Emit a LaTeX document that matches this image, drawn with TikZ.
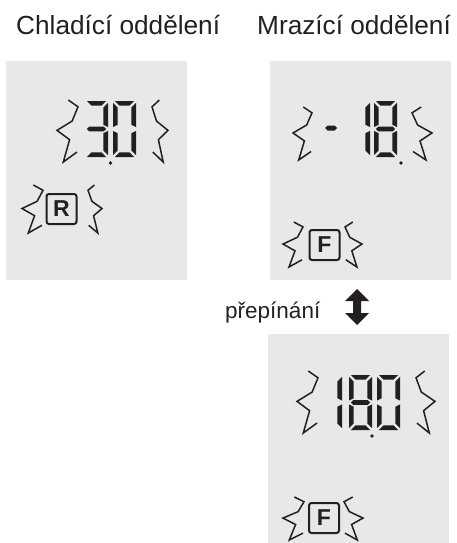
\documentclass[tikz,border=0pt]{standalone}
\usepackage{fontspec}
\setmainfont{Liberation Sans}
\definecolor{panelgray}{HTML}{E8E8E8}
\definecolor{ink}{HTML}{231F20}
\def\W{23}\def\H{56}\def\T{4.6}\def\G{1.9}
\newcommand\segA{\fill[ink] (\G,0) -- (\W-\G,0) -- (\W-\G-\T,\T) -- (\G+\T,\T) -- cycle;}
\newcommand\segD{\fill[ink] (\G,\H) -- (\W-\G,\H) -- (\W-\G-\T,\H-\T) -- (\G+\T,\H-\T) -- cycle;}
\newcommand\segG{\fill[ink] (\G,\H/2) -- (\G+\T/2,\H/2-\T/2) -- (\W-\G-\T/2,\H/2-\T/2) -- (\W-\G,\H/2) -- (\W-\G-\T/2,\H/2+\T/2) -- (\G+\T/2,\H/2+\T/2) -- cycle;}
\newcommand\segF{\fill[ink] (0,\G) -- (\T,\G+\T) -- (\T,\H/2-\G-\T/2) -- (0,\H/2-\G) -- cycle;}
\newcommand\segE{\fill[ink] (0,\H/2+\G) -- (\T,\H/2+\G+\T/2) -- (\T,\H-\G-\T) -- (0,\H-\G) -- cycle;}
\newcommand\segB{\fill[ink] (\W,\G) -- (\W-\T,\G+\T) -- (\W-\T,\H/2-\G-\T/2) -- (\W,\H/2-\G) -- cycle;}
\newcommand\segC{\fill[ink] (\W,\H/2+\G) -- (\W-\T,\H/2+\G+\T/2) -- (\W-\T,\H-\G-\T) -- (\W,\H-\G) -- cycle;}
\newcommand\digitat[3]{\begin{scope}[shift={(#1,#2)}]\foreach \s in {#3}{\csname seg\s\endcsname}\end{scope}}
\newcommand\brL[4]{\begin{scope}[shift={(#1,#2)},x=#3pt,y=-#4pt]
 \draw[ink,line width=1.5pt,miter limit=20] (0.95,0.84) -- (0.3,1) -- (0.6,0.64) -- (0,0.49) -- (0.72,0.34) -- (1,0.11) -- (0.54,0);\end{scope}}
\newcommand\brR[4]{\begin{scope}[shift={(#1,#2)},x=-#3pt,y=-#4pt]
 \draw[ink,line width=1.5pt,miter limit=20] (0.95,0.84) -- (0.3,1) -- (0.6,0.64) -- (0,0.49) -- (0.72,0.34) -- (1,0.11) -- (0.54,0);\end{scope}}
\begin{document}
\begin{tikzpicture}[x=1pt,y=-1pt]
\tikzset{
 panel/.style={fill=panelgray, draw=none},
 title/.style={anchor=base west, inner sep=0pt, text=ink, font=\fontsize{26.2}{30}\selectfont},
 keybox/.style={draw=ink, line width=2pt, rounded corners=2.5pt, minimum width=30pt, minimum height=30pt, inner sep=0pt, text=ink, font=\bfseries\fontsize{23}{23}\selectfont},
 dp/.style={fill=ink}
}
\useasboundingbox (0,0) rectangle (456,543);
% panels
\fill[panel] (6,60.7) rectangle (187,280);
\fill[panel] (270,60.7) rectangle (450.5,280);
\fill[panel] (268.3,333.5) rectangle (449,543);
% titles
\node[title] (t1) at (16,35) {Chladící oddělení};
\node[title] (t2) at (257,35) {Mrazící oddělení};
\node[anchor=base west, inner sep=0pt, text=ink, font=\fontsize{22.5}{26}\selectfont] (t3) at (225,318) {přepínání};
% switch arrow
\fill[ink] (357,289) -- (369,301) -- (361,301) -- (361,313) -- (369,313) -- (357,325) -- (345,313) -- (353,313) -- (353,301) -- (345,301) -- cycle;
% left panel: 3.0
\brL{57}{100}{21}{62}
\digitat{85}{101}{A,B,G,C,D}
\digitat{113}{101}{A,B,C,D,E,F}
\fill[dp] (110.5,163) circle (1.8);
\brR{168}{100}{16}{62}
\node[keybox] (R) at (61.5,209) {R};
\brL{22}{185}{21}{48}
\brR{102}{185}{14}{48}
% right top panel: - 18.
\brL{293}{107}{19}{53}
\fill[ink] (325,128) -- (327.5,125.5) -- (334.5,125.5) -- (337,128) -- (334.5,130.5) -- (327.5,130.5) -- cycle;
\digitat{347}{101}{B,C}
\digitat{374}{101}{A,B,C,D,E,F,G}
\fill[dp] (401,163) circle (1.8);
\brR{432}{107}{20}{53}
\node[keybox] (F1) at (324.5,245) {F};
\brL{283}{222}{20}{45}
\brR{362}{222}{17}{45}
% bottom panel: 18.0
\def\H{55}
\brL{297}{371}{21}{62}
\digitat{319}{375}{B,C}
\digitat{349}{375}{A,B,C,D,E,F,G}
\digitat{377}{375}{A,B,C,D,E,F}
\fill[dp] (372,436) circle (1.8);
\brR{435}{371}{19}{62}
\node[keybox] (F2) at (324,518) {F};
\brL{283}{497}{21}{43}
\brR{363}{497}{19}{43}
\end{tikzpicture}
\end{document}
